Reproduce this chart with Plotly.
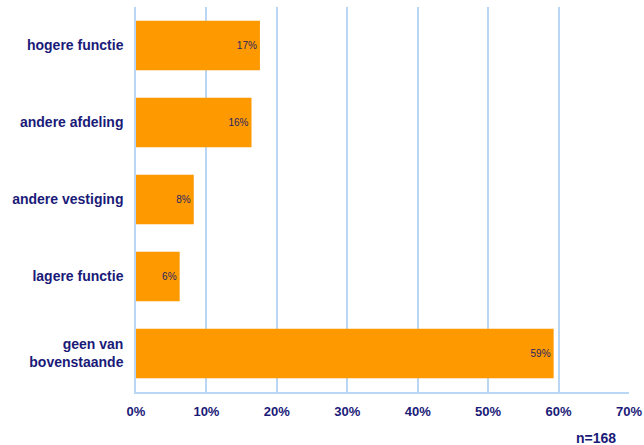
import plotly.graph_objects as go

categories = ["hogere functie", "andere afdeling", "andere vestiging", "lagere functie", "geen van<br>bovenstaande"]
values = [17.6, 16.4, 8.2, 6.2, 59.3]
labels = ["17%", "16%", "8%", "6%", "59%"]
tick_vals = [0, 10, 20, 30, 40, 50, 60, 70]
tick_text = ["0%", "10%", "20%", "30%", "40%", "50%", "60%", "70%"]

navy = "#1a1a78"
grid = "#b9d7f5"

fig = go.Figure(go.Bar(
    x=values, y=categories, orientation="h",
    marker=dict(color="#FF9900", line=dict(width=0)),
    width=0.64,
    text=labels, textposition="inside", insidetextanchor="end",
    textfont=dict(family="Liberation Sans, Arial", size=10, color="#262660"),
    textangle=0,
))

fig.update_layout(
    width=644, height=445,
    margin=dict(l=136, r=15, t=7, b=53),
    plot_bgcolor="white", paper_bgcolor="white",
    showlegend=False,
    uniformtext=dict(minsize=10, mode="show"),
    xaxis=dict(range=[0, 70], tickvals=tick_vals, ticktext=tick_text, automargin=False,
               showgrid=True, gridcolor=grid, gridwidth=1.5,
               showline=True, linecolor=grid, linewidth=1.5,
               zeroline=False, ticks="", ticklabelstandoff=7,
               tickfont=dict(family="Liberation Sans, Arial", size=13, color=navy, weight="bold")),
    yaxis=dict(autorange="reversed", showgrid=False, automargin=False,
               showline=True, linecolor=grid, linewidth=1.5,
               ticks="", ticklabelstandoff=8,
               tickfont=dict(family="Liberation Sans, Arial", size=14, color=navy, weight="bold")),
    annotations=[dict(text="<b>n=168</b>", xref="paper", yref="paper", x=0.978, y=-0.119,
                      xanchor="right", yanchor="middle", showarrow=False,
                      font=dict(family="Liberation Sans, Arial", size=14, color=navy))],
)

fig.write_html("out.html", config={"displayModeBar": False},
               post_script="document.body.style.margin='0';")
